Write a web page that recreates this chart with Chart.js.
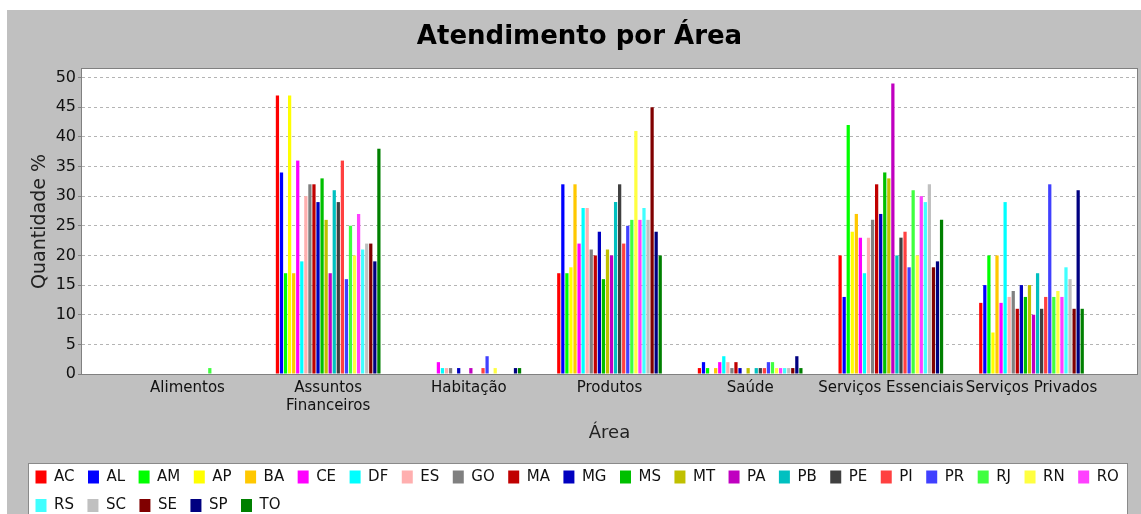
<!DOCTYPE html>
<html>
<head>
<meta charset="utf-8">
<script src="https://cdn.jsdelivr.net/npm/chart.js@4/dist/chart.umd.min.js"></script>
<style>
  html, body { margin: 0; padding: 0; background: #fff; }
  #wrap { width: 1141px; height: 514px; }
</style>
</head>
<body>
<div id="wrap"><canvas id="grafico" width="1141" height="514"></canvas></div>
<script>
const areas = ['Alimentos', ['Assuntos', 'Financeiros'], 'Habitação', 'Produtos', 'Saúde', 'Serviços Essenciais', 'Serviços Privados'];
const estados = ['AC', 'AL', 'AM', 'AP', 'BA', 'CE', 'DF', 'ES', 'GO', 'MA', 'MG', 'MS', 'MT', 'PA', 'PB', 'PE', 'PI', 'PR', 'RJ', 'RN', 'RO', 'RS', 'SC', 'SE', 'SP', 'TO'];
const cores = ['#ff0000', '#0000ff', '#00ff00', '#ffff00', '#ffc800', '#ff00ff', '#00ffff', '#ffafaf', '#808080', '#c00000', '#0000c0', '#00c000', '#c0c000', '#c000c0', '#00c0c0', '#404040', '#ff4040', '#4040ff', '#40ff40', '#ffff40', '#ff40ff', '#40ffff', '#c0c0c0', '#800000', '#000080', '#008000'];

// valores por área, na ordem dos estados acima
const alimentos   = [0, 0, 0, 0, 0, 0, 0, 0, 0, 0, 0, 0, 0, 0, 0, 0, 0, 0, 1, 0, 0, 0, 0, 0, 0, 0];
const financeiros = [47, 34, 17, 47, 17, 36, 19, 30, 32, 32, 29, 33, 26, 17, 31, 29, 36, 16, 25, 20, 27, 21, 22, 22, 19, 38];
const habitacao   = [0, 0, 0, 0, 0, 2, 1, 1, 1, 0, 1, 0, 0, 1, 0, 0, 1, 3, 0, 1, 0, 0, 0, 0, 1, 1];
const produtos    = [17, 32, 17, 18, 32, 22, 28, 28, 21, 20, 24, 16, 21, 20, 29, 32, 22, 25, 26, 41, 26, 28, 26, 45, 24, 20];
const saude       = [1, 2, 1, 0, 1, 2, 3, 2, 1, 2, 1, 0, 1, 0, 1, 1, 1, 2, 2, 1, 1, 1, 1, 1, 3, 1];
const essenciais  = [20, 13, 42, 24, 27, 23, 17, 23, 26, 32, 27, 34, 33, 49, 20, 23, 24, 18, 31, 20, 30, 29, 32, 18, 19, 26];
const privados    = [12, 15, 20, 7, 20, 12, 29, 13, 14, 11, 15, 13, 15, 10, 17, 11, 13, 32, 13, 14, 13, 18, 16, 11, 31, 11];

const porArea = [alimentos, financeiros, habitacao, produtos, saude, essenciais, privados];
const marcasY = [0, 5, 10, 15, 20, 25, 30, 35, 40, 45, 50];

const fonte = 'DejaVu Sans';

// fundo cinza, área do gráfico branca e caixa da legenda
const fundo = {
    id: 'fundo',
    afterLayout(chart) {
        // deixa a primeira linha da legenda ir até RO, como no original
        chart.legend.right = chart.width;
    },
    beforeDraw(chart) {
        const ctx = chart.ctx;
        const area = chart.chartArea;
        const leg = chart.legend;
        const x0 = leg.left + 6;
        const y0 = Math.round(leg.top + 7);
        ctx.save();
        ctx.fillStyle = '#ffffff';
        ctx.fillRect(0, 0, chart.width, chart.height);
        ctx.fillStyle = '#c0c0c0';
        ctx.fillRect(7, 10, chart.width - 7, chart.height - 10);
        ctx.fillStyle = '#ffffff';
        ctx.fillRect(area.left, area.top, area.right - area.left, area.bottom - area.top);
        ctx.fillRect(x0, y0, chart.width - 14 - x0, chart.height);
        ctx.strokeStyle = '#8a8a8a';
        ctx.lineWidth = 1;
        ctx.strokeRect(x0 + 0.5, y0 + 0.5, chart.width - 14 - x0, chart.height);
        ctx.restore();
    },
    afterDatasetsDraw(chart) {
        const ctx = chart.ctx;
        const area = chart.chartArea;
        ctx.save();
        ctx.strokeStyle = '#808080';
        ctx.lineWidth = 1;
        ctx.strokeRect(Math.round(area.left) - 0.5, Math.round(area.top) - 0.5, area.right - area.left + 1, area.bottom - area.top + 1);
        ctx.restore();
    }
};

const ctx = document.getElementById('grafico');
const chart = new Chart(ctx, {
    type: 'bar',
    data: {
        labels: areas.map((a, i) => i),
        datasets: estados.map((uf, s) => ({
            label: uf,
            data: porArea.map(a => a[s]),
            backgroundColor: cores[s],
            borderWidth: 0,
            categoryPercentage: 0.75,
            barPercentage: 0.8
        }))
    },
    options: {
        responsive: false,
        animation: false,
        layout: { padding: { top: 10, left: 22, right: 4, bottom: -9 } },
        plugins: {
            title: {
                display: true,
                text: 'Atendimento por Área',
                color: '#000',
                font: { family: fonte, size: 26, weight: 'bold' },
                padding: { top: 11.4, bottom: 16.4 }
            },
            legend: {
                position: 'bottom',
                align: 'start',
                labels: {
                    color: '#111',
                    font: { family: fonte, size: 15 },
                    boxWidth: 11,
                    boxHeight: 13,
                    padding: 13.5
                }
            },
            tooltip: { enabled: false }
        },
        scales: {
            x: {
                type: 'linear',
                min: -0.75,
                max: 6.75,
                offset: false,
                grid: { display: false, drawTicks: false, offset: false },
                border: { display: false },
                afterBuildTicks: s => { s.ticks = areas.map((a, i) => ({ value: i })); },
                afterFit: s => { s.height = 82; },
                ticks: {
                    autoSkip: false,
                    maxRotation: 0,
                    minRotation: 0,
                    padding: 5,
                    color: '#111',
                    font: { family: fonte, size: 15 },
                    callback: v => areas[v]
                },
                title: {
                    display: true,
                    text: 'Área',
                    color: '#222',
                    font: { family: fonte, size: 18 },
                    padding: { top: 0, bottom: 12.2 }
                }
            },
            y: {
                min: 0,
                max: 51.45,
                afterBuildTicks: s => { s.ticks = marcasY.map(v => ({ value: v })); },
                afterFit: s => { s.width = 60; },
                grid: {
                    color: '#b4b4b4',
                    lineWidth: 1,
                    tickLength: 4,
                    tickColor: '#808080',
                    tickBorderDash: []
                },
                border: { display: false, dash: [3, 3] },
                ticks: {
                    padding: 2,
                    color: '#111',
                    font: { family: fonte, size: 16 }
                },
                title: {
                    display: true,
                    text: 'Quantidade %',
                    color: '#222',
                    font: { family: fonte, size: 19 },
                    padding: { top: 6.6, bottom: 0 }
                }
            }
        }
    },
    plugins: [fundo]
});
</script>
</body>
</html>
